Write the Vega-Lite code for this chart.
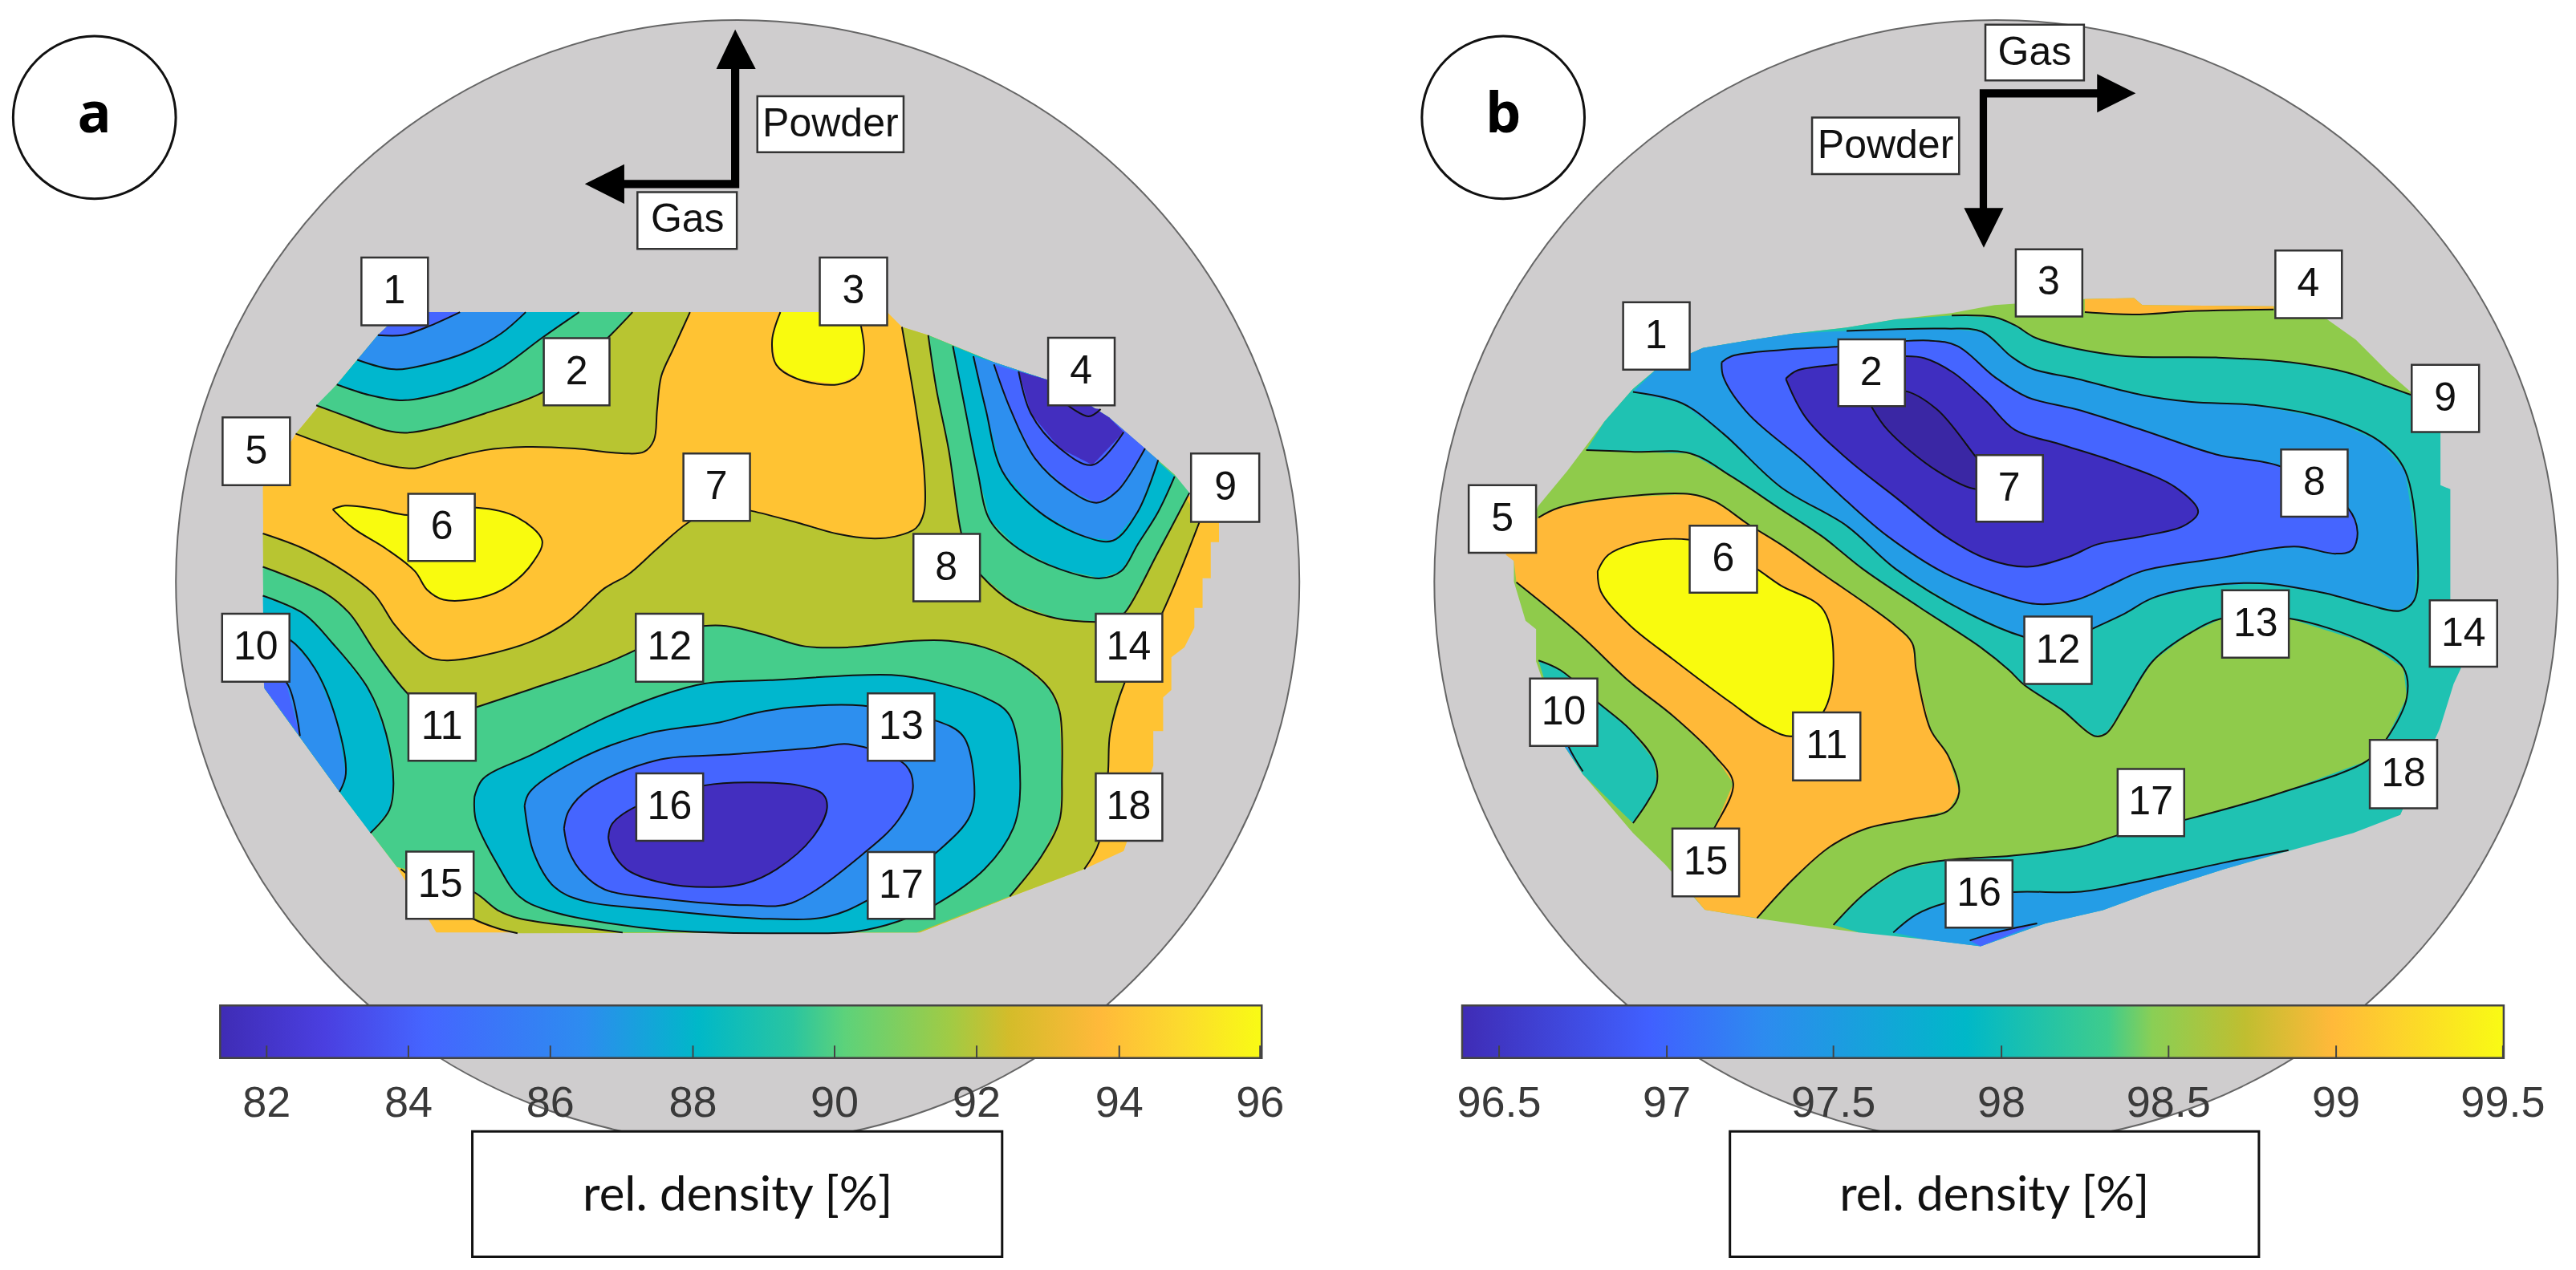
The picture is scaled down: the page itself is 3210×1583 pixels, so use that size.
{"$schema":"https://vega.github.io/schema/vega-lite/v6.json","width":3210,"height":1583,"padding":0,"autosize":{"type":"none"},"background":"white","config":{"view":{"stroke":null},"axis":{"grid":false}},
"datasets":{
"disks":[{"x":449,"y":354},{"x":1215,"y":354}],
"tags":[{"x":57.5,"y":71.5,"t":"a"},{"x":915,"y":71.5,"t":"b"}],
"regions":[
{"id":"a01","lev":7,"x":245,"y":190},{"id":"a01","lev":7,"x":540,"y":190},{"id":"a01","lev":7,"x":549,"y":199},{"id":"a01","lev":7,"x":565,"y":204},{"id":"a01","lev":7,"x":605,"y":220.5},{"id":"a01","lev":7,"x":640,"y":232},{"id":"a01","lev":7,"x":675,"y":254},{"id":"a01","lev":7,"x":715,"y":289},{"id":"a01","lev":7,"x":735,"y":318},{"id":"a01","lev":7,"x":742,"y":318},{"id":"a01","lev":7,"x":742,"y":330},{"id":"a01","lev":7,"x":737,"y":330},{"id":"a01","lev":7,"x":737,"y":352},{"id":"a01","lev":7,"x":732,"y":352},{"id":"a01","lev":7,"x":732,"y":370},{"id":"a01","lev":7,"x":727,"y":370},{"id":"a01","lev":7,"x":727,"y":382},{"id":"a01","lev":7,"x":721,"y":394},{"id":"a01","lev":7,"x":713,"y":400},{"id":"a01","lev":7,"x":713,"y":420},{"id":"a01","lev":7,"x":708,"y":424.5},{"id":"a01","lev":7,"x":708,"y":445},{"id":"a01","lev":7,"x":702,"y":445},{"id":"a01","lev":7,"x":702,"y":466},{"id":"a01","lev":7,"x":684,"y":518},{"id":"a01","lev":7,"x":660,"y":529},{"id":"a01","lev":7,"x":612,"y":547},{"id":"a01","lev":7,"x":560,"y":567.6},{"id":"a01","lev":7,"x":265.6,"y":567.6},{"id":"a01","lev":7,"x":241.6,"y":527.7},{"id":"a01","lev":7,"x":206.7,"y":482},{"id":"a01","lev":7,"x":161,"y":419},{"id":"a01","lev":7,"x":160,"y":296.5},{"id":"a01","lev":7,"x":180,"y":264},{"id":"a01","lev":7,"x":205,"y":234},{"id":"a01","lev":7,"x":230,"y":204},
{"id":"a02","lev":6,"x":180,"y":264,"c":1},{"id":"a02","lev":6,"x":210,"y":275,"c":1},{"id":"a02","lev":6,"x":235,"y":283,"c":1},{"id":"a02","lev":6,"x":252.5,"y":285,"c":1},{"id":"a02","lev":6,"x":270,"y":280,"c":1},{"id":"a02","lev":6,"x":295,"y":274,"c":1},{"id":"a02","lev":6,"x":320,"y":272,"c":1},{"id":"a02","lev":6,"x":350,"y":273,"c":1},{"id":"a02","lev":6,"x":380,"y":276,"c":1},{"id":"a02","lev":6,"x":392,"y":275,"c":1},{"id":"a02","lev":6,"x":398,"y":268,"c":1},{"id":"a02","lev":6,"x":400,"y":249,"c":1},{"id":"a02","lev":6,"x":402.5,"y":229,"c":1},{"id":"a02","lev":6,"x":410,"y":212,"c":1},{"id":"a02","lev":6,"x":420,"y":190,"c":1},{"id":"a02","lev":6,"x":245,"y":190},{"id":"a02","lev":6,"x":230,"y":204},{"id":"a02","lev":6,"x":205,"y":234},
{"id":"a03","lev":5,"x":192.5,"y":246.7,"c":2},{"id":"a03","lev":5,"x":215,"y":255,"c":2},{"id":"a03","lev":5,"x":235,"y":262,"c":2},{"id":"a03","lev":5,"x":247.5,"y":263.4,"c":2},{"id":"a03","lev":5,"x":265,"y":260.5,"c":2},{"id":"a03","lev":5,"x":295,"y":251.7,"c":2},{"id":"a03","lev":5,"x":330,"y":239,"c":2},{"id":"a03","lev":5,"x":350,"y":224,"c":2},{"id":"a03","lev":5,"x":370,"y":205.6,"c":2},{"id":"a03","lev":5,"x":385,"y":190,"c":2},{"id":"a03","lev":5,"x":245,"y":190},{"id":"a03","lev":5,"x":230,"y":204},{"id":"a03","lev":5,"x":205,"y":234},
{"id":"a04","lev":4,"x":205,"y":234,"c":3},{"id":"a04","lev":4,"x":225,"y":240.5,"c":3},{"id":"a04","lev":4,"x":245,"y":243.7,"c":3},{"id":"a04","lev":4,"x":265,"y":240.5,"c":3},{"id":"a04","lev":4,"x":285,"y":234,"c":3},{"id":"a04","lev":4,"x":305,"y":224,"c":3},{"id":"a04","lev":4,"x":330,"y":205.6,"c":3},{"id":"a04","lev":4,"x":352.5,"y":190,"c":3},{"id":"a04","lev":4,"x":245,"y":190},{"id":"a04","lev":4,"x":230,"y":204},
{"id":"a05","lev":3,"x":217.5,"y":219,"c":4},{"id":"a05","lev":3,"x":240,"y":224.8,"c":4},{"id":"a05","lev":3,"x":260,"y":221.8,"c":4},{"id":"a05","lev":3,"x":285,"y":214,"c":4},{"id":"a05","lev":3,"x":305,"y":203,"c":4},{"id":"a05","lev":3,"x":320,"y":190,"c":4},{"id":"a05","lev":3,"x":245,"y":190},{"id":"a05","lev":3,"x":230,"y":204},
{"id":"a06","lev":2,"x":230,"y":204,"c":5},{"id":"a06","lev":2,"x":245,"y":204,"c":5},{"id":"a06","lev":2,"x":260,"y":199,"c":5},{"id":"a06","lev":2,"x":280,"y":190,"c":5},{"id":"a06","lev":2,"x":245,"y":190},
{"id":"a07","lev":8,"x":475,"y":190,"c":6},{"id":"a07","lev":8,"x":470,"y":207,"c":6},{"id":"a07","lev":8,"x":472.5,"y":222,"c":6},{"id":"a07","lev":8,"x":485,"y":230.5,"c":6},{"id":"a07","lev":8,"x":510,"y":234,"c":6},{"id":"a07","lev":8,"x":522.5,"y":228,"c":6},{"id":"a07","lev":8,"x":526,"y":214,"c":6},{"id":"a07","lev":8,"x":524,"y":198,"c":6},{"id":"a07","lev":8,"x":522,"y":190,"c":6},
{"id":"a08","lev":6,"x":160,"y":324.7,"c":7},{"id":"a08","lev":6,"x":185,"y":334,"c":7},{"id":"a08","lev":6,"x":210,"y":348,"c":7},{"id":"a08","lev":6,"x":228,"y":362,"c":7},{"id":"a08","lev":6,"x":240,"y":380,"c":7},{"id":"a08","lev":6,"x":250.4,"y":391.5,"c":7},{"id":"a08","lev":6,"x":261,"y":400,"c":7},{"id":"a08","lev":6,"x":272,"y":402,"c":7},{"id":"a08","lev":6,"x":294,"y":399,"c":7},{"id":"a08","lev":6,"x":324.5,"y":390,"c":7},{"id":"a08","lev":6,"x":346,"y":378,"c":7},{"id":"a08","lev":6,"x":368,"y":358,"c":7},{"id":"a08","lev":6,"x":382,"y":350,"c":7},{"id":"a08","lev":6,"x":400,"y":334,"c":7},{"id":"a08","lev":6,"x":419,"y":318,"c":7},{"id":"a08","lev":6,"x":440,"y":308,"c":7},{"id":"a08","lev":6,"x":457.5,"y":311,"c":7},{"id":"a08","lev":6,"x":485,"y":318,"c":7},{"id":"a08","lev":6,"x":510,"y":325,"c":7},{"id":"a08","lev":6,"x":530,"y":327.7,"c":7},{"id":"a08","lev":6,"x":545,"y":326.5,"c":7},{"id":"a08","lev":6,"x":557.5,"y":321.5,"c":7},{"id":"a08","lev":6,"x":562.5,"y":311.5,"c":7},{"id":"a08","lev":6,"x":562.5,"y":286.6,"c":7},{"id":"a08","lev":6,"x":557.5,"y":249,"c":7},{"id":"a08","lev":6,"x":552.5,"y":219,"c":7},{"id":"a08","lev":6,"x":549,"y":199,"c":7},{"id":"a08","lev":6,"x":565,"y":204},{"id":"a08","lev":6,"x":605,"y":220.5},{"id":"a08","lev":6,"x":640,"y":232},{"id":"a08","lev":6,"x":675,"y":254},{"id":"a08","lev":6,"x":715,"y":289},{"id":"a08","lev":6,"x":730,"y":318,"c":8},{"id":"a08","lev":6,"x":707.5,"y":373,"c":8},{"id":"a08","lev":6,"x":684.4,"y":416,"c":8},{"id":"a08","lev":6,"x":675.7,"y":446.5,"c":8},{"id":"a08","lev":6,"x":674.4,"y":471,"c":8},{"id":"a08","lev":6,"x":669,"y":512.6,"c":8},{"id":"a08","lev":6,"x":660,"y":529,"c":8},{"id":"a08","lev":6,"x":612,"y":547},{"id":"a08","lev":6,"x":560,"y":567.6},{"id":"a08","lev":6,"x":315,"y":568,"c":9},{"id":"a08","lev":6,"x":302.7,"y":565,"c":9},{"id":"a08","lev":6,"x":287.5,"y":559,"c":9},{"id":"a08","lev":6,"x":265,"y":545,"c":9},{"id":"a08","lev":6,"x":244,"y":529,"c":9},{"id":"a08","lev":6,"x":206.7,"y":482},{"id":"a08","lev":6,"x":161,"y":419},
{"id":"a09","lev":5,"x":565,"y":204,"c":10},{"id":"a09","lev":5,"x":570,"y":237,"c":10},{"id":"a09","lev":5,"x":577.5,"y":274,"c":10},{"id":"a09","lev":5,"x":585,"y":324,"c":10},{"id":"a09","lev":5,"x":590,"y":340,"c":10},{"id":"a09","lev":5,"x":597,"y":350,"c":10},{"id":"a09","lev":5,"x":617,"y":367,"c":10},{"id":"a09","lev":5,"x":643,"y":376.4,"c":10},{"id":"a09","lev":5,"x":667,"y":378.6,"c":10},{"id":"a09","lev":5,"x":678,"y":378,"c":10},{"id":"a09","lev":5,"x":685,"y":372.5,"c":10},{"id":"a09","lev":5,"x":705,"y":336,"c":10},{"id":"a09","lev":5,"x":724,"y":300,"c":10},{"id":"a09","lev":5,"x":715,"y":289},{"id":"a09","lev":5,"x":675,"y":254},{"id":"a09","lev":5,"x":640,"y":232},{"id":"a09","lev":5,"x":605,"y":220.5},
{"id":"a10","lev":4,"x":580,"y":210.6,"c":11},{"id":"a10","lev":4,"x":587.5,"y":249,"c":11},{"id":"a10","lev":4,"x":595,"y":286.6,"c":11},{"id":"a10","lev":4,"x":602.5,"y":316.5,"c":11},{"id":"a10","lev":4,"x":620,"y":334,"c":11},{"id":"a10","lev":4,"x":645,"y":346.4,"c":11},{"id":"a10","lev":4,"x":670,"y":352,"c":11},{"id":"a10","lev":4,"x":682.5,"y":347.6,"c":11},{"id":"a10","lev":4,"x":692.5,"y":331.4,"c":11},{"id":"a10","lev":4,"x":705,"y":311.5,"c":11},{"id":"a10","lev":4,"x":715,"y":290,"c":11},{"id":"a10","lev":4,"x":675,"y":254},{"id":"a10","lev":4,"x":640,"y":232},{"id":"a10","lev":4,"x":605,"y":220.5},
{"id":"a11","lev":3,"x":592.5,"y":216.8,"c":12},{"id":"a11","lev":3,"x":600,"y":249,"c":12},{"id":"a11","lev":3,"x":610,"y":286.6,"c":12},{"id":"a11","lev":3,"x":632.5,"y":311.5,"c":12},{"id":"a11","lev":3,"x":660,"y":326.5,"c":12},{"id":"a11","lev":3,"x":677.5,"y":329,"c":12},{"id":"a11","lev":3,"x":692.5,"y":311.5,"c":12},{"id":"a11","lev":3,"x":705,"y":280,"c":12},{"id":"a11","lev":3,"x":675,"y":254},{"id":"a11","lev":3,"x":640,"y":232},{"id":"a11","lev":3,"x":605,"y":220.5},
{"id":"a12","lev":2,"x":605,"y":221.8,"c":13},{"id":"a12","lev":2,"x":615,"y":249,"c":13},{"id":"a12","lev":2,"x":630,"y":279,"c":13},{"id":"a12","lev":2,"x":650,"y":297.8,"c":13},{"id":"a12","lev":2,"x":667.5,"y":306,"c":13},{"id":"a12","lev":2,"x":680,"y":299,"c":13},{"id":"a12","lev":2,"x":697,"y":273,"c":13},{"id":"a12","lev":2,"x":675,"y":254},{"id":"a12","lev":2,"x":640,"y":232},
{"id":"a13","lev":1,"x":620,"y":226,"c":14},{"id":"a13","lev":1,"x":627.5,"y":251.7,"c":14},{"id":"a13","lev":1,"x":645,"y":272.8,"c":14},{"id":"a13","lev":1,"x":665,"y":283,"c":14},{"id":"a13","lev":1,"x":684,"y":263,"c":14},{"id":"a13","lev":1,"x":675,"y":254},{"id":"a13","lev":1,"x":640,"y":232},
{"id":"a14","lev":1,"x":650,"y":246.7,"c":15},{"id":"a14","lev":1,"x":662.5,"y":253.4,"c":15},{"id":"a14","lev":1,"x":670,"y":249,"c":15},
{"id":"a15","lev":8,"x":202.5,"y":310,"c":16},{"id":"a15","lev":8,"x":210,"y":307.8,"c":16},{"id":"a15","lev":8,"x":230,"y":310,"c":16},{"id":"a15","lev":8,"x":248.5,"y":313.5,"c":16},{"id":"a15","lev":8,"x":290,"y":309,"c":16},{"id":"a15","lev":8,"x":315,"y":315,"c":16},{"id":"a15","lev":8,"x":330,"y":329,"c":16},{"id":"a15","lev":8,"x":325,"y":341.4,"c":16},{"id":"a15","lev":8,"x":310,"y":356.4,"c":16},{"id":"a15","lev":8,"x":292.5,"y":363.8,"c":16},{"id":"a15","lev":8,"x":270,"y":365,"c":16},{"id":"a15","lev":8,"x":260,"y":359,"c":16},{"id":"a15","lev":8,"x":252.5,"y":347.6,"c":16},{"id":"a15","lev":8,"x":235,"y":334,"c":16},{"id":"a15","lev":8,"x":215,"y":321.5,"c":16},{"id":"a15","lev":8,"x":202.5,"y":310,"c":16},
{"id":"a16","lev":5,"x":160,"y":345,"c":17},{"id":"a16","lev":5,"x":198,"y":361,"c":17},{"id":"a16","lev":5,"x":213,"y":373.6,"c":17},{"id":"a16","lev":5,"x":228.6,"y":397,"c":17},{"id":"a16","lev":5,"x":248,"y":422,"c":17},{"id":"a16","lev":5,"x":268,"y":438,"c":17},{"id":"a16","lev":5,"x":289.6,"y":430.6,"c":17},{"id":"a16","lev":5,"x":324.5,"y":419,"c":17},{"id":"a16","lev":5,"x":368,"y":404,"c":17},{"id":"a16","lev":5,"x":387,"y":395.6,"c":17},{"id":"a16","lev":5,"x":410,"y":384,"c":17},{"id":"a16","lev":5,"x":428,"y":381,"c":17},{"id":"a16","lev":5,"x":442,"y":381,"c":17},{"id":"a16","lev":5,"x":464,"y":386,"c":17},{"id":"a16","lev":5,"x":490,"y":393.4,"c":17},{"id":"a16","lev":5,"x":516.5,"y":394,"c":17},{"id":"a16","lev":5,"x":556,"y":390,"c":17},{"id":"a16","lev":5,"x":577.5,"y":390,"c":17},{"id":"a16","lev":5,"x":599,"y":394,"c":17},{"id":"a16","lev":5,"x":621,"y":404,"c":17},{"id":"a16","lev":5,"x":638.6,"y":419,"c":17},{"id":"a16","lev":5,"x":645,"y":433,"c":17},{"id":"a16","lev":5,"x":646.4,"y":474,"c":17},{"id":"a16","lev":5,"x":645,"y":499,"c":17},{"id":"a16","lev":5,"x":634,"y":521,"c":17},{"id":"a16","lev":5,"x":614.6,"y":545.6,"c":17},{"id":"a16","lev":5,"x":558,"y":567.6},{"id":"a16","lev":5,"x":379,"y":567.6,"c":18},{"id":"a16","lev":5,"x":359,"y":565,"c":18},{"id":"a16","lev":5,"x":316,"y":559,"c":18},{"id":"a16","lev":5,"x":303,"y":554,"c":18},{"id":"a16","lev":5,"x":288.4,"y":543,"c":18},{"id":"a16","lev":5,"x":247.3,"y":529,"c":18},{"id":"a16","lev":5,"x":241.6,"y":527.7},{"id":"a16","lev":5,"x":206.7,"y":482},{"id":"a16","lev":5,"x":161,"y":419},
{"id":"a17","lev":4,"x":160,"y":362.6,"c":19},{"id":"a17","lev":4,"x":185,"y":373.6,"c":19},{"id":"a17","lev":4,"x":202.4,"y":391.5,"c":19},{"id":"a17","lev":4,"x":224,"y":419,"c":19},{"id":"a17","lev":4,"x":235,"y":446.5,"c":19},{"id":"a17","lev":4,"x":239.5,"y":477,"c":19},{"id":"a17","lev":4,"x":237,"y":493,"c":19},{"id":"a17","lev":4,"x":225.5,"y":507,"c":19},{"id":"a17","lev":4,"x":206.7,"y":482},{"id":"a17","lev":4,"x":161,"y":419},
{"id":"a18","lev":3,"x":160,"y":383,"c":20},{"id":"a18","lev":3,"x":176,"y":389,"c":20},{"id":"a18","lev":3,"x":191.5,"y":406.6,"c":20},{"id":"a18","lev":3,"x":204.7,"y":438,"c":20},{"id":"a18","lev":3,"x":210.5,"y":471,"c":20},{"id":"a18","lev":3,"x":206.7,"y":482,"c":20},{"id":"a18","lev":3,"x":161,"y":419},
{"id":"a19","lev":2,"x":160,"y":410,"c":21},{"id":"a19","lev":2,"x":174,"y":415,"c":21},{"id":"a19","lev":2,"x":182.6,"y":448,"c":21},{"id":"a19","lev":2,"x":161,"y":419},
{"id":"a20","lev":4,"x":288.8,"y":485,"c":22},{"id":"a20","lev":4,"x":294,"y":474,"c":22},{"id":"a20","lev":4,"x":324.5,"y":459,"c":22},{"id":"a20","lev":4,"x":368,"y":437,"c":22},{"id":"a20","lev":4,"x":403,"y":423,"c":22},{"id":"a20","lev":4,"x":429,"y":416,"c":22},{"id":"a20","lev":4,"x":468.5,"y":414,"c":22},{"id":"a20","lev":4,"x":542.6,"y":410.8,"c":22},{"id":"a20","lev":4,"x":568.8,"y":415,"c":22},{"id":"a20","lev":4,"x":599.3,"y":424.5,"c":22},{"id":"a20","lev":4,"x":614.6,"y":435.5,"c":22},{"id":"a20","lev":4,"x":621,"y":479.6,"c":22},{"id":"a20","lev":4,"x":616.8,"y":504,"c":22},{"id":"a20","lev":4,"x":599.3,"y":529,"c":22},{"id":"a20","lev":4,"x":568.8,"y":551,"c":22},{"id":"a20","lev":4,"x":547,"y":560.7,"c":22},{"id":"a20","lev":4,"x":520.8,"y":567,"c":22},{"id":"a20","lev":4,"x":481.6,"y":568,"c":22},{"id":"a20","lev":4,"x":403,"y":566,"c":22},{"id":"a20","lev":4,"x":333,"y":554,"c":22},{"id":"a20","lev":4,"x":316,"y":545.6,"c":22},{"id":"a20","lev":4,"x":302.7,"y":526,"c":22},{"id":"a20","lev":4,"x":289.6,"y":499,"c":22},{"id":"a20","lev":4,"x":288.8,"y":485,"c":22},
{"id":"a21","lev":3,"x":319.3,"y":490.6,"c":23},{"id":"a21","lev":3,"x":322.3,"y":482.3,"c":23},{"id":"a21","lev":3,"x":350.7,"y":463,"c":23},{"id":"a21","lev":3,"x":394.3,"y":446.5,"c":23},{"id":"a21","lev":3,"x":438,"y":439.7,"c":23},{"id":"a21","lev":3,"x":459.8,"y":434,"c":23},{"id":"a21","lev":3,"x":481.6,"y":430.6,"c":23},{"id":"a21","lev":3,"x":525,"y":429.5,"c":23},{"id":"a21","lev":3,"x":568.8,"y":438.3,"c":23},{"id":"a21","lev":3,"x":586.2,"y":448,"c":23},{"id":"a21","lev":3,"x":592.8,"y":474,"c":23},{"id":"a21","lev":3,"x":590.7,"y":496,"c":23},{"id":"a21","lev":3,"x":571,"y":518,"c":23},{"id":"a21","lev":3,"x":527.4,"y":548.3,"c":23},{"id":"a21","lev":3,"x":503.4,"y":558,"c":23},{"id":"a21","lev":3,"x":468.5,"y":559.3,"c":23},{"id":"a21","lev":3,"x":403,"y":554,"c":23},{"id":"a21","lev":3,"x":355,"y":548.3,"c":23},{"id":"a21","lev":3,"x":337.6,"y":540,"c":23},{"id":"a21","lev":3,"x":324.5,"y":518,"c":23},{"id":"a21","lev":3,"x":319.3,"y":490.6,"c":23},
{"id":"a22","lev":2,"x":343.3,"y":504.3,"c":24},{"id":"a22","lev":2,"x":346.3,"y":493.3,"c":24},{"id":"a22","lev":2,"x":359.4,"y":479.6,"c":24},{"id":"a22","lev":2,"x":398.7,"y":463,"c":24},{"id":"a22","lev":2,"x":446.7,"y":459,"c":24},{"id":"a22","lev":2,"x":499,"y":454.8,"c":24},{"id":"a22","lev":2,"x":516.4,"y":452.9,"c":24},{"id":"a22","lev":2,"x":551.3,"y":465.8,"c":24},{"id":"a22","lev":2,"x":555.7,"y":479.6,"c":24},{"id":"a22","lev":2,"x":547,"y":498.8,"c":24},{"id":"a22","lev":2,"x":527.4,"y":518,"c":24},{"id":"a22","lev":2,"x":481.6,"y":549.7,"c":24},{"id":"a22","lev":2,"x":455.4,"y":551,"c":24},{"id":"a22","lev":2,"x":403,"y":547,"c":24},{"id":"a22","lev":2,"x":368.1,"y":541.4,"c":24},{"id":"a22","lev":2,"x":355,"y":531.8,"c":24},{"id":"a22","lev":2,"x":346.3,"y":518,"c":24},{"id":"a22","lev":2,"x":343.3,"y":504.3,"c":24},
{"id":"a23","lev":1,"x":370.3,"y":510,"c":25},{"id":"a23","lev":1,"x":372.5,"y":501.6,"c":25},{"id":"a23","lev":1,"x":387.8,"y":490.6,"c":25},{"id":"a23","lev":1,"x":429.2,"y":478,"c":25},{"id":"a23","lev":1,"x":455.4,"y":476.2,"c":25},{"id":"a23","lev":1,"x":486,"y":478,"c":25},{"id":"a23","lev":1,"x":501.2,"y":483.7,"c":25},{"id":"a23","lev":1,"x":503.4,"y":492,"c":25},{"id":"a23","lev":1,"x":494.6,"y":509.8,"c":25},{"id":"a23","lev":1,"x":472.8,"y":529,"c":25},{"id":"a23","lev":1,"x":453.2,"y":537.9,"c":25},{"id":"a23","lev":1,"x":433.6,"y":540,"c":25},{"id":"a23","lev":1,"x":403,"y":537.3,"c":25},{"id":"a23","lev":1,"x":381.2,"y":529,"c":25},{"id":"a23","lev":1,"x":372.5,"y":518,"c":25},{"id":"a23","lev":1,"x":370.3,"y":510,"c":25},
{"id":"b01","lev":16,"x":936.5,"y":307.8},{"id":"b01","lev":16,"x":954,"y":286.6},{"id":"b01","lev":16,"x":976.5,"y":256.7},{"id":"b01","lev":16,"x":994,"y":236.7},{"id":"b01","lev":16,"x":1009,"y":224},{"id":"b01","lev":16,"x":1036.5,"y":211.8},{"id":"b01","lev":16,"x":1061.5,"y":207.6},{"id":"b01","lev":16,"x":1091.5,"y":203},{"id":"b01","lev":16,"x":1124,"y":199.4},{"id":"b01","lev":16,"x":1154,"y":194.4},{"id":"b01","lev":16,"x":1188,"y":190.6},{"id":"b01","lev":16,"x":1214,"y":185.7},{"id":"b01","lev":16,"x":1269,"y":182},{"id":"b01","lev":16,"x":1299,"y":181.4},{"id":"b01","lev":16,"x":1304,"y":185.7},{"id":"b01","lev":16,"x":1384,"y":186.4},{"id":"b01","lev":16,"x":1416.5,"y":194.4},{"id":"b01","lev":16,"x":1434,"y":206.8},{"id":"b01","lev":16,"x":1454,"y":226.8},{"id":"b01","lev":16,"x":1468,"y":239},{"id":"b01","lev":16,"x":1480,"y":262},{"id":"b01","lev":16,"x":1482,"y":440},{"id":"b01","lev":16,"x":1461,"y":496},{"id":"b01","lev":16,"x":1131.5,"y":567.6},{"id":"b01","lev":16,"x":1101,"y":563.5},{"id":"b01","lev":16,"x":1068,"y":558.8},{"id":"b01","lev":16,"x":1037.7,"y":553.8},{"id":"b01","lev":16,"x":1013.7,"y":526.3},{"id":"b01","lev":16,"x":994,"y":507},{"id":"b01","lev":16,"x":963.5,"y":471.3},{"id":"b01","lev":16,"x":952.6,"y":454.8},{"id":"b01","lev":16,"x":935,"y":402.5},{"id":"b01","lev":16,"x":935,"y":383},{"id":"b01","lev":16,"x":928.6,"y":377.8},{"id":"b01","lev":16,"x":921.5,"y":354},{"id":"b01","lev":16,"x":921.5,"y":341.4},
{"id":"b02","lev":17,"x":1269,"y":182},{"id":"b02","lev":17,"x":1299,"y":181.4},{"id":"b02","lev":17,"x":1304,"y":185.7},{"id":"b02","lev":17,"x":1384,"y":186.4},{"id":"b02","lev":17,"x":1384,"y":188.4,"c":30},{"id":"b02","lev":17,"x":1334,"y":189.4,"c":30},{"id":"b02","lev":17,"x":1299,"y":191.4,"c":30},{"id":"b02","lev":17,"x":1269,"y":190,"c":30},
{"id":"b03","lev":15,"x":965.5,"y":274,"c":31},{"id":"b03","lev":15,"x":995,"y":275,"c":31},{"id":"b03","lev":15,"x":1029,"y":276,"c":31},{"id":"b03","lev":15,"x":1054,"y":290,"c":31},{"id":"b03","lev":15,"x":1084,"y":310,"c":31},{"id":"b03","lev":15,"x":1109,"y":326.4,"c":31},{"id":"b03","lev":15,"x":1134,"y":346.4,"c":31},{"id":"b03","lev":15,"x":1169,"y":370,"c":31},{"id":"b03","lev":15,"x":1205.6,"y":394,"c":31},{"id":"b03","lev":15,"x":1223,"y":408,"c":31},{"id":"b03","lev":15,"x":1232,"y":416.8,"c":31},{"id":"b03","lev":15,"x":1255,"y":432,"c":31},{"id":"b03","lev":15,"x":1275,"y":448,"c":31},{"id":"b03","lev":15,"x":1282,"y":446.5,"c":31},{"id":"b03","lev":15,"x":1293,"y":430,"c":31},{"id":"b03","lev":15,"x":1310.3,"y":402.5,"c":31},{"id":"b03","lev":15,"x":1332,"y":386,"c":31},{"id":"b03","lev":15,"x":1352.6,"y":376.4,"c":31},{"id":"b03","lev":15,"x":1393,"y":376.4,"c":31},{"id":"b03","lev":15,"x":1441,"y":391.5,"c":31},{"id":"b03","lev":15,"x":1463,"y":406.6,"c":31},{"id":"b03","lev":15,"x":1465,"y":424.5,"c":31},{"id":"b03","lev":15,"x":1452,"y":450.7,"c":31},{"id":"b03","lev":15,"x":1441,"y":463,"c":31},{"id":"b03","lev":15,"x":1389,"y":482.3,"c":31},{"id":"b03","lev":15,"x":1330,"y":499,"c":31},{"id":"b03","lev":15,"x":1289,"y":508.4,"c":31},{"id":"b03","lev":15,"x":1267,"y":515.3,"c":31},{"id":"b03","lev":15,"x":1225,"y":520.8,"c":31},{"id":"b03","lev":15,"x":1184,"y":523.6,"c":31},{"id":"b03","lev":15,"x":1157.6,"y":529,"c":31},{"id":"b03","lev":15,"x":1136,"y":543,"c":31},{"id":"b03","lev":15,"x":1116,"y":563,"c":31},{"id":"b03","lev":15,"x":1131.5,"y":567.6},{"id":"b03","lev":15,"x":1171,"y":571.7},{"id":"b03","lev":15,"x":1205.6,"y":576},{"id":"b03","lev":15,"x":1245,"y":562},{"id":"b03","lev":15,"x":1280,"y":554},{"id":"b03","lev":15,"x":1310,"y":543},{"id":"b03","lev":15,"x":1354,"y":529},{"id":"b03","lev":15,"x":1393,"y":518},{"id":"b03","lev":15,"x":1432.5,"y":507},{"id":"b03","lev":15,"x":1461,"y":496},{"id":"b03","lev":15,"x":1485,"y":443.8},{"id":"b03","lev":15,"x":1493.5,"y":416.3},{"id":"b03","lev":15,"x":1498,"y":406.6},{"id":"b03","lev":15,"x":1491.5,"y":365},{"id":"b03","lev":15,"x":1491.5,"y":297.8},{"id":"b03","lev":15,"x":1485.5,"y":295.3},{"id":"b03","lev":15,"x":1485.5,"y":263},{"id":"b03","lev":15,"x":1468,"y":240.5,"c":32},{"id":"b03","lev":15,"x":1454,"y":235.5,"c":32},{"id":"b03","lev":15,"x":1429,"y":226.8,"c":32},{"id":"b03","lev":15,"x":1394,"y":220.5,"c":32},{"id":"b03","lev":15,"x":1349,"y":217.6,"c":32},{"id":"b03","lev":15,"x":1294,"y":216.8,"c":32},{"id":"b03","lev":15,"x":1264,"y":212.3,"c":32},{"id":"b03","lev":15,"x":1239,"y":205.6,"c":32},{"id":"b03","lev":15,"x":1226.5,"y":198,"c":32},{"id":"b03","lev":15,"x":1214,"y":193,"c":32},{"id":"b03","lev":15,"x":1188,"y":192,"c":32},{"id":"b03","lev":15,"x":1154,"y":194.4},{"id":"b03","lev":15,"x":1124,"y":199.4},{"id":"b03","lev":15,"x":1091.5,"y":203},{"id":"b03","lev":15,"x":1061.5,"y":207.6},{"id":"b03","lev":15,"x":1036.5,"y":211.8},{"id":"b03","lev":15,"x":1009,"y":224},{"id":"b03","lev":15,"x":994,"y":236.7},{"id":"b03","lev":15,"x":976.5,"y":256.7},
{"id":"b04","lev":14,"x":994,"y":238.5,"c":33},{"id":"b04","lev":14,"x":1024,"y":245.5,"c":33},{"id":"b04","lev":14,"x":1049,"y":264,"c":33},{"id":"b04","lev":14,"x":1084,"y":296.5,"c":33},{"id":"b04","lev":14,"x":1124,"y":320,"c":33},{"id":"b04","lev":14,"x":1154,"y":346.4,"c":33},{"id":"b04","lev":14,"x":1199,"y":373.8,"c":33},{"id":"b04","lev":14,"x":1231.5,"y":387.5,"c":33},{"id":"b04","lev":14,"x":1255,"y":392,"c":33},{"id":"b04","lev":14,"x":1273,"y":383,"c":33},{"id":"b04","lev":14,"x":1293,"y":373.6,"c":33},{"id":"b04","lev":14,"x":1310.3,"y":364,"c":33},{"id":"b04","lev":14,"x":1341,"y":357,"c":33},{"id":"b04","lev":14,"x":1376,"y":355,"c":33},{"id":"b04","lev":14,"x":1415,"y":361,"c":33},{"id":"b04","lev":14,"x":1441,"y":368,"c":33},{"id":"b04","lev":14,"x":1461,"y":371.7,"c":33},{"id":"b04","lev":14,"x":1469.5,"y":365.4,"c":33},{"id":"b04","lev":14,"x":1471.5,"y":336.4,"c":33},{"id":"b04","lev":14,"x":1464,"y":286.6,"c":33},{"id":"b04","lev":14,"x":1449,"y":269,"c":33},{"id":"b04","lev":14,"x":1419,"y":255.4,"c":33},{"id":"b04","lev":14,"x":1374,"y":246.7,"c":33},{"id":"b04","lev":14,"x":1334,"y":244.7,"c":33},{"id":"b04","lev":14,"x":1304,"y":240.5,"c":33},{"id":"b04","lev":14,"x":1264,"y":230.5,"c":33},{"id":"b04","lev":14,"x":1236.5,"y":224.3,"c":33},{"id":"b04","lev":14,"x":1224,"y":216.8,"c":33},{"id":"b04","lev":14,"x":1206.5,"y":201.9,"c":33},{"id":"b04","lev":14,"x":1184,"y":200,"c":33},{"id":"b04","lev":14,"x":1124,"y":201.4,"c":33},{"id":"b04","lev":14,"x":1091.5,"y":203},{"id":"b04","lev":14,"x":1061.5,"y":207.6},{"id":"b04","lev":14,"x":1036.5,"y":211.8},{"id":"b04","lev":14,"x":1009,"y":224},
{"id":"b05","lev":13,"x":1048,"y":220.5,"c":34},{"id":"b05","lev":13,"x":1054,"y":216.8,"c":34},{"id":"b05","lev":13,"x":1084,"y":213,"c":34},{"id":"b05","lev":13,"x":1119,"y":211,"c":34},{"id":"b05","lev":13,"x":1174,"y":207.3,"c":34},{"id":"b05","lev":13,"x":1191.5,"y":210.6,"c":34},{"id":"b05","lev":13,"x":1214,"y":229.3,"c":34},{"id":"b05","lev":13,"x":1234,"y":241.7,"c":34},{"id":"b05","lev":13,"x":1264,"y":249.2,"c":34},{"id":"b05","lev":13,"x":1304,"y":261.7,"c":34},{"id":"b05","lev":13,"x":1349,"y":276.6,"c":34},{"id":"b05","lev":13,"x":1388.5,"y":284,"c":34},{"id":"b05","lev":13,"x":1429,"y":309,"c":34},{"id":"b05","lev":13,"x":1435,"y":324,"c":34},{"id":"b05","lev":13,"x":1431.5,"y":335,"c":34},{"id":"b05","lev":13,"x":1421.5,"y":337,"c":34},{"id":"b05","lev":13,"x":1396.5,"y":332.7,"c":34},{"id":"b05","lev":13,"x":1349,"y":340,"c":34},{"id":"b05","lev":13,"x":1304,"y":347.6,"c":34},{"id":"b05","lev":13,"x":1284,"y":356.4,"c":34},{"id":"b05","lev":13,"x":1264,"y":365,"c":34},{"id":"b05","lev":13,"x":1239,"y":367.6,"c":34},{"id":"b05","lev":13,"x":1214,"y":361,"c":34},{"id":"b05","lev":13,"x":1184,"y":349,"c":34},{"id":"b05","lev":13,"x":1149,"y":326.4,"c":34},{"id":"b05","lev":13,"x":1124,"y":305,"c":34},{"id":"b05","lev":13,"x":1099,"y":281.6,"c":34},{"id":"b05","lev":13,"x":1064,"y":251.7,"c":34},{"id":"b05","lev":13,"x":1049,"y":229.3,"c":34},{"id":"b05","lev":13,"x":1048,"y":220.5,"c":34},
{"id":"b06","lev":12,"x":1087,"y":230.5,"c":35},{"id":"b06","lev":12,"x":1094,"y":225.5,"c":35},{"id":"b06","lev":12,"x":1119,"y":221.8,"c":35},{"id":"b06","lev":12,"x":1159.5,"y":216.8,"c":35},{"id":"b06","lev":12,"x":1171.5,"y":218,"c":35},{"id":"b06","lev":12,"x":1189,"y":226.8,"c":35},{"id":"b06","lev":12,"x":1209,"y":244.2,"c":35},{"id":"b06","lev":12,"x":1226.5,"y":261.7,"c":35},{"id":"b06","lev":12,"x":1254,"y":270.4,"c":35},{"id":"b06","lev":12,"x":1289,"y":281.6,"c":35},{"id":"b06","lev":12,"x":1324,"y":296.5,"c":35},{"id":"b06","lev":12,"x":1338,"y":311.5,"c":35},{"id":"b06","lev":12,"x":1329,"y":320.2,"c":35},{"id":"b06","lev":12,"x":1304,"y":326.4,"c":35},{"id":"b06","lev":12,"x":1276.5,"y":331.4,"c":35},{"id":"b06","lev":12,"x":1259,"y":339,"c":35},{"id":"b06","lev":12,"x":1234,"y":345,"c":35},{"id":"b06","lev":12,"x":1209,"y":340,"c":35},{"id":"b06","lev":12,"x":1184,"y":326.4,"c":35},{"id":"b06","lev":12,"x":1154,"y":302.8,"c":35},{"id":"b06","lev":12,"x":1124,"y":279,"c":35},{"id":"b06","lev":12,"x":1099,"y":254,"c":35},{"id":"b06","lev":12,"x":1087,"y":230.5,"c":35},
{"id":"b07","lev":11,"x":1139,"y":247.2,"c":36},{"id":"b07","lev":11,"x":1149,"y":261.7,"c":36},{"id":"b07","lev":11,"x":1179,"y":286.6,"c":36},{"id":"b07","lev":11,"x":1203,"y":297.8,"c":36},{"id":"b07","lev":11,"x":1215,"y":295,"c":36},{"id":"b07","lev":11,"x":1201.5,"y":276.6,"c":36},{"id":"b07","lev":11,"x":1179,"y":249.2,"c":36},{"id":"b07","lev":11,"x":1159.5,"y":238,"c":36},{"id":"b07","lev":11,"x":1145,"y":240,"c":36},
{"id":"b08","lev":17,"x":923,"y":354.4,"c":37},{"id":"b08","lev":17,"x":961.4,"y":386,"c":37},{"id":"b08","lev":17,"x":992,"y":415,"c":37},{"id":"b08","lev":17,"x":1018,"y":435.5,"c":37},{"id":"b08","lev":17,"x":1044,"y":460.3,"c":37},{"id":"b08","lev":17,"x":1055,"y":476.8,"c":37},{"id":"b08","lev":17,"x":1043.4,"y":504.3,"c":37},{"id":"b08","lev":17,"x":1035,"y":520,"c":37},{"id":"b08","lev":17,"x":1024,"y":537,"c":37},{"id":"b08","lev":17,"x":1037.7,"y":553.8},{"id":"b08","lev":17,"x":1069.5,"y":558.8,"c":38},{"id":"b08","lev":17,"x":1092,"y":534.6,"c":38},{"id":"b08","lev":17,"x":1114,"y":515.3,"c":38},{"id":"b08","lev":17,"x":1136,"y":504.3,"c":38},{"id":"b08","lev":17,"x":1162,"y":498.8,"c":38},{"id":"b08","lev":17,"x":1186,"y":493.3,"c":38},{"id":"b08","lev":17,"x":1192.5,"y":482.3,"c":38},{"id":"b08","lev":17,"x":1186,"y":460.3,"c":38},{"id":"b08","lev":17,"x":1175,"y":443.8,"c":38},{"id":"b08","lev":17,"x":1166.4,"y":408,"c":38},{"id":"b08","lev":17,"x":1164,"y":391.5,"c":38},{"id":"b08","lev":17,"x":1153.3,"y":380.5,"c":38},{"id":"b08","lev":17,"x":1109,"y":349,"c":38},{"id":"b08","lev":17,"x":1084,"y":331.4,"c":38},{"id":"b08","lev":17,"x":1064,"y":319,"c":38},{"id":"b08","lev":17,"x":1044,"y":305.3,"c":38},{"id":"b08","lev":17,"x":1029,"y":300.8,"c":38},{"id":"b08","lev":17,"x":984,"y":302.8,"c":38},{"id":"b08","lev":17,"x":949,"y":309,"c":38},{"id":"b08","lev":17,"x":936.5,"y":315,"c":38},{"id":"b08","lev":17,"x":916.5,"y":337.7},{"id":"b08","lev":17,"x":921.5,"y":341.4},
{"id":"b09","lev":18,"x":972.5,"y":347.6,"c":39},{"id":"b09","lev":18,"x":979,"y":337.7,"c":39},{"id":"b09","lev":18,"x":999,"y":330,"c":39},{"id":"b09","lev":18,"x":1028.5,"y":328.5,"c":39},{"id":"b09","lev":18,"x":1050,"y":335,"c":39},{"id":"b09","lev":18,"x":1069.5,"y":346.4,"c":39},{"id":"b09","lev":18,"x":1084,"y":356.4,"c":39},{"id":"b09","lev":18,"x":1109.7,"y":371,"c":39},{"id":"b09","lev":18,"x":1116,"y":405.3,"c":39},{"id":"b09","lev":18,"x":1109.7,"y":433.6,"c":39},{"id":"b09","lev":18,"x":1091.4,"y":448,"c":39},{"id":"b09","lev":18,"x":1074.8,"y":442.4,"c":39},{"id":"b09","lev":18,"x":1053,"y":427.3,"c":39},{"id":"b09","lev":18,"x":1018,"y":401,"c":39},{"id":"b09","lev":18,"x":992,"y":380.5,"c":39},{"id":"b09","lev":18,"x":974.4,"y":360,"c":39},{"id":"b09","lev":18,"x":972.5,"y":347.6,"c":39},
{"id":"b10","lev":15,"x":936.5,"y":402,"c":40},{"id":"b10","lev":15,"x":950,"y":408,"c":40},{"id":"b10","lev":15,"x":972.3,"y":427.3,"c":40},{"id":"b10","lev":15,"x":992,"y":443.8,"c":40},{"id":"b10","lev":15,"x":1007,"y":463,"c":40},{"id":"b10","lev":15,"x":1008.5,"y":476.8,"c":40},{"id":"b10","lev":15,"x":1003,"y":487.8,"c":40},{"id":"b10","lev":15,"x":994,"y":501,"c":40},{"id":"b10","lev":15,"x":963.5,"y":471.3},{"id":"b10","lev":15,"x":952.6,"y":454.8},
{"id":"b11","lev":14,"x":950,"y":440,"c":41},{"id":"b11","lev":14,"x":955,"y":454.8,"c":41},{"id":"b11","lev":14,"x":963.5,"y":469.5,"c":41},{"id":"b11","lev":14,"x":952.6,"y":454.8},
{"id":"b12","lev":14,"x":1152.4,"y":567.6,"c":42},{"id":"b12","lev":14,"x":1166.4,"y":556.6,"c":42},{"id":"b12","lev":14,"x":1184,"y":549.7,"c":42},{"id":"b12","lev":14,"x":1225,"y":543,"c":42},{"id":"b12","lev":14,"x":1266.7,"y":542.8,"c":42},{"id":"b12","lev":14,"x":1310.3,"y":534.6,"c":42},{"id":"b12","lev":14,"x":1354,"y":525,"c":42},{"id":"b12","lev":14,"x":1393,"y":517.5,"c":42},{"id":"b12","lev":14,"x":1354,"y":529},{"id":"b12","lev":14,"x":1310,"y":543},{"id":"b12","lev":14,"x":1280,"y":554},{"id":"b12","lev":14,"x":1245,"y":562},{"id":"b12","lev":14,"x":1205.6,"y":576},{"id":"b12","lev":14,"x":1171,"y":571.7},
{"id":"b13","lev":13,"x":1199,"y":572.5,"c":43},{"id":"b13","lev":13,"x":1214.4,"y":567.6,"c":43},{"id":"b13","lev":13,"x":1240,"y":562,"c":43},{"id":"b13","lev":13,"x":1205.6,"y":576},
{"id":"z1","lev":0,"x":447.5,"y":18},{"id":"z1","lev":0,"x":460,"y":42},{"id":"z1","lev":0,"x":450,"y":42},{"id":"z1","lev":0,"x":450,"y":114.5},{"id":"z1","lev":0,"x":380,"y":114.5},{"id":"z1","lev":0,"x":380,"y":124},{"id":"z1","lev":0,"x":356,"y":112},{"id":"z1","lev":0,"x":380,"y":100},{"id":"z1","lev":0,"x":380,"y":109.5},{"id":"z1","lev":0,"x":445,"y":109.5},{"id":"z1","lev":0,"x":445,"y":42},{"id":"z1","lev":0,"x":436,"y":42},
{"id":"z2","lev":0,"x":1300,"y":56.8},{"id":"z2","lev":0,"x":1276.5,"y":68.5},{"id":"z2","lev":0,"x":1276.5,"y":59.3},{"id":"z2","lev":0,"x":1209.5,"y":59.3},{"id":"z2","lev":0,"x":1209.5,"y":126.6},{"id":"z2","lev":0,"x":1219.5,"y":126.6},{"id":"z2","lev":0,"x":1207.5,"y":150.8},{"id":"z2","lev":0,"x":1195.5,"y":126.6},{"id":"z2","lev":0,"x":1205,"y":126.6},{"id":"z2","lev":0,"x":1205,"y":54.3},{"id":"z2","lev":0,"x":1276.5,"y":54.3},{"id":"z2","lev":0,"x":1276.5,"y":45}
],
"boxes":[
{"t":"Gas","x":418.5,"y":134,"x0":388,"x1":448.5,"y0":117,"y1":151.5},{"t":"Powder","x":505.5,"y":75.5,"x0":461,"x1":550,"y0":58.6,"y1":92.7},
{"t":"1","x":240,"y":177.5,"x0":220,"x1":260.5,"y0":156.8,"y1":198},{"t":"2","x":351,"y":226.5,"x0":331,"x1":371,"y0":205.8,"y1":246.7},{"t":"3","x":519.5,"y":177.5,"x0":499,"x1":540,"y0":156.8,"y1":198},{"t":"4","x":658,"y":226,"x0":638,"x1":678.5,"y0":205.6,"y1":246.7},{"t":"5","x":156,"y":275,"x0":135.5,"x1":176.5,"y0":254,"y1":295.3},{"t":"6","x":269,"y":321,"x0":248.5,"x1":289,"y0":300.5,"y1":341.4},{"t":"7","x":436,"y":296.5,"x0":416,"x1":456.5,"y0":276,"y1":317},{"t":"8","x":576,"y":345.5,"x0":556,"x1":596.5,"y0":325,"y1":366},{"t":"9","x":746,"y":297,"x0":725,"x1":766.5,"y0":276,"y1":317.7},{"t":"10","x":155.7,"y":394.3,"x0":135.2,"x1":176.2,"y0":373.6,"y1":415},{"t":"11","x":269,"y":442.5,"x0":248.6,"x1":289.6,"y0":422,"y1":463},{"t":"12","x":407.5,"y":394.3,"x0":387,"x1":428,"y0":373.6,"y1":415},{"t":"13","x":548.5,"y":442.5,"x0":528.2,"x1":568.8,"y0":422,"y1":463},{"t":"14","x":687,"y":394.3,"x0":667,"x1":707.5,"y0":373.6,"y1":415},{"t":"15","x":268,"y":538.8,"x0":247.3,"x1":288.3,"y0":518.3,"y1":559.3},{"t":"16","x":407.6,"y":491.2,"x0":387.3,"x1":428,"y0":470.7,"y1":511.7},{"t":"17","x":548.5,"y":539,"x0":528.2,"x1":568.8,"y0":518.6,"y1":559.3},{"t":"18","x":687,"y":491.2,"x0":667,"x1":707.5,"y0":470.7,"y1":511.7},
{"t":"Gas","x":1238.5,"y":32,"x0":1208.5,"x1":1268.5,"y0":15,"y1":49},{"t":"Powder","x":1147.7,"y":88.7,"x0":1103,"x1":1192.5,"y0":71.5,"y1":106},
{"t":"1","x":1008,"y":204.5,"x0":988,"x1":1028.5,"y0":184,"y1":225},{"t":"2","x":1139,"y":227,"x0":1119,"x1":1159.5,"y0":206.6,"y1":247.2},{"t":"3","x":1247,"y":172,"x0":1227,"x1":1267.5,"y0":151.8,"y1":192.6},{"t":"4","x":1405,"y":173,"x0":1385,"x1":1425.5,"y0":152.5,"y1":193.6},{"t":"5","x":914.5,"y":316,"x0":894,"x1":935,"y0":295.3,"y1":336.4},{"t":"6","x":1049,"y":340.5,"x0":1028.5,"x1":1069.5,"y0":320,"y1":360.8},{"t":"7","x":1223,"y":297.3,"x0":1203,"x1":1243.5,"y0":277,"y1":317.5},{"t":"8","x":1408.7,"y":294,"x0":1388.5,"x1":1429,"y0":273.6,"y1":314.5},{"t":"9","x":1488.5,"y":242.5,"x0":1468,"x1":1509,"y0":222,"y1":263},{"t":"10","x":951.8,"y":433.5,"x0":931.3,"x1":972.3,"y0":413,"y1":454},{"t":"11","x":1111.9,"y":454.3,"x0":1091.4,"x1":1132.4,"y0":433.6,"y1":475},{"t":"12","x":1252.7,"y":395.8,"x0":1232.2,"x1":1273.2,"y0":375.3,"y1":416.3},{"t":"13","x":1373,"y":379.8,"x0":1352.6,"x1":1393.2,"y0":359.3,"y1":400.3},{"t":"14","x":1499.5,"y":385.6,"x0":1479,"x1":1520,"y0":365.4,"y1":405.8},{"t":"15","x":1038.3,"y":525,"x0":1018,"x1":1058.6,"y0":504.3,"y1":545.6},{"t":"16","x":1204.6,"y":544,"x0":1184.3,"x1":1225,"y0":523.6,"y1":564.6},{"t":"17","x":1309.2,"y":488.5,"x0":1289,"x1":1329.5,"y0":468,"y1":509},{"t":"18","x":1463,"y":471,"x0":1442.5,"x1":1483.5,"y0":450.4,"y1":492}
],
"ticks":[
{"t":"82","x":162.3,"y":672,"y0":636.4,"y1":644},{"t":"84","x":248.6,"y":672,"y0":636.4,"y1":644},{"t":"86","x":335,"y":672,"y0":636.4,"y1":644},{"t":"88","x":421.8,"y":672,"y0":636.4,"y1":644},{"t":"90","x":508,"y":672,"y0":636.4,"y1":644},{"t":"92","x":594.5,"y":672,"y0":636.4,"y1":644},{"t":"94","x":681.3,"y":672,"y0":636.4,"y1":644},{"t":"96","x":767,"y":672,"y0":636.4,"y1":644},
{"t":"96.5","x":912.5,"y":672,"y0":636.4,"y1":644},{"t":"97","x":1014.6,"y":672,"y0":636.4,"y1":644},{"t":"97.5","x":1116,"y":672,"y0":636.4,"y1":644},{"t":"98","x":1218.3,"y":672,"y0":636.4,"y1":644},{"t":"98.5","x":1320,"y":672,"y0":636.4,"y1":644},{"t":"99","x":1422,"y":672,"y0":636.4,"y1":644},{"t":"99.5","x":1523.5,"y":672,"y0":636.4,"y1":644}
],
"titles":[{"t":"rel. density [%]","x":449,"y":728,"x0":287.5,"x1":610,"y0":688.6,"y1":765},{"t":"rel. density [%]","x":1214,"y":728,"x0":1053,"x1":1375,"y0":688.6,"y1":765}]
},
"encoding":{"x":{"field":"x","type":"quantitative","scale":{"domain":[0,1568],"nice":false,"zero":false},"axis":null},"y":{"field":"y","type":"quantitative","scale":{"domain":[773,0],"nice":false,"zero":false},"axis":null}},
"layer":[
{"data":{"name":"disks"},"mark":{"type":"point","shape":"circle","filled":true,"fill":"#CFCDCE","stroke":"#666666","strokeWidth":2,"opacity":1,"size":1960000}},
{"data":{"name":"tags"},"mark":{"type":"point","shape":"circle","filled":true,"fill":"white","stroke":"#111111","strokeWidth":3,"opacity":1,"size":41087}},
{"data":{"name":"tags"},"mark":{"type":"text","font":"Open Sans","fontWeight":"bold","fontSize":70,"color":"black","baseline":"middle","align":"center","dy":-2},"encoding":{"text":{"field":"t"}}},
{"data":{"name":"regions"},"transform":[{"filter":"!test(/^(a15|a2[0-3]|b0[5679])$/, datum.id)"}],"mark":{"type":"line","order":false,"stroke":"transparent","strokeWidth":0},"encoding":{"detail":{"field":"id"},"fill":{"field":"lev","type":"nominal","legend":null,"scale":{"domain":[0,1,2,3,4,5,6,7,8,11,12,13,14,15,16,17,18],"range":["#000000","#432EBF","#4565FF","#2D8FEF","#00B7CE","#45CD8B","#B8C531","#FFC333","#F9FB0E","#3A27A4","#3F2EC0","#4565FF","#249DE6","#1FC2B2","#8FCB4B","#FFB938","#F9FB0E"]}}}},
{"data":{"name":"regions"},"transform":[{"filter":"test(/^(a15|a2[0-3]|b0[5679])$/, datum.id)"}],"mark":{"type":"line","order":false,"interpolate":"catmull-rom","stroke":"transparent","strokeWidth":0},"encoding":{"detail":{"field":"id"},"fill":{"field":"lev","type":"nominal","legend":null}}},
{"data":{"name":"regions"},"transform":[{"filter":"isValid(datum.c)"}],"mark":{"type":"line","order":false,"interpolate":"catmull-rom","stroke":"#111111","strokeWidth":2},"encoding":{"detail":{"field":"c"}}},
{"data":{"name":"boxes"},"mark":{"type":"rect","fill":"white","stroke":"#333333","strokeWidth":2.5},"encoding":{"x":{"field":"x0","type":"quantitative"},"x2":{"field":"x1"},"y":{"field":"y0","type":"quantitative"},"y2":{"field":"y1"}}},
{"data":{"name":"boxes"},"mark":{"type":"text","font":"Liberation Sans","fontSize":50,"color":"#111111","baseline":"middle","align":"center"},"encoding":{"text":{"field":"t"}}},
{"data":{"values":[{"x0":134,"x1":768,"y0":612,"y1":644}]},"mark":{"type":"rect","stroke":"#444444","strokeWidth":2.5,"fill":{"gradient":"linear","x1":0,"x2":1,"y1":0,"y2":0,"stops":[{"offset":0,"color":"#3F2CB5"},{"offset":0.1,"color":"#4A3FE0"},{"offset":0.197,"color":"#4565FF"},{"offset":0.35,"color":"#2D8CEF"},{"offset":0.459,"color":"#00B8C8"},{"offset":0.55,"color":"#2AC5A0"},{"offset":0.6,"color":"#5DD27A"},{"offset":0.7,"color":"#A0CB45"},{"offset":0.758,"color":"#D4BC2A"},{"offset":0.844,"color":"#FFB93A"},{"offset":0.92,"color":"#FCD92E"},{"offset":1,"color":"#F9FB14"}]}},"encoding":{"x":{"field":"x0","type":"quantitative"},"x2":{"field":"x1"},"y":{"field":"y0","type":"quantitative"},"y2":{"field":"y1"}}},
{"data":{"values":[{"x0":890,"x1":1524,"y0":612,"y1":644}]},"mark":{"type":"rect","stroke":"#444444","strokeWidth":2.5,"fill":{"gradient":"linear","x1":0,"x2":1,"y1":0,"y2":0,"stops":[{"offset":0,"color":"#3F2CB5"},{"offset":0.18,"color":"#4060FF"},{"offset":0.29,"color":"#2D8BEF"},{"offset":0.484,"color":"#00B8C8"},{"offset":0.62,"color":"#3FCC8C"},{"offset":0.663,"color":"#8ACF55"},{"offset":0.752,"color":"#C0BE30"},{"offset":0.835,"color":"#FFB93A"},{"offset":1,"color":"#F9FB14"}]}},"encoding":{"x":{"field":"x0","type":"quantitative"},"x2":{"field":"x1"},"y":{"field":"y0","type":"quantitative"},"y2":{"field":"y1"}}},
{"data":{"name":"ticks"},"mark":{"type":"rule","stroke":"#444444","strokeWidth":2},"encoding":{"y":{"field":"y0","type":"quantitative"},"y2":{"field":"y1"}}},
{"data":{"name":"ticks"},"mark":{"type":"text","font":"Liberation Sans","fontSize":54,"color":"#3A3A3A","baseline":"middle","align":"center"},"encoding":{"text":{"field":"t"}}},
{"data":{"name":"titles"},"mark":{"type":"rect","fill":"white","stroke":"#111111","strokeWidth":3},"encoding":{"x":{"field":"x0","type":"quantitative"},"x2":{"field":"x1"},"y":{"field":"y0","type":"quantitative"},"y2":{"field":"y1"}}},
{"data":{"name":"titles"},"mark":{"type":"text","font":"Lato","fontSize":60,"color":"#111111","baseline":"middle","align":"center"},"encoding":{"text":{"field":"t"}}}
]}
